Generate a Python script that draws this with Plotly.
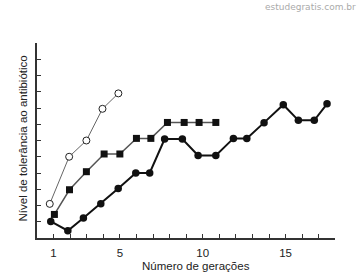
import plotly.graph_objects as go

# Data (generation, tolerance level)
open_x = [0.77, 1.94, 2.98, 3.95, 4.91]
open_y = [2.1, 5.0, 6.0, 7.95, 8.9]

square_x = [1.05, 1.96, 2.98, 4.05, 5.0, 6.0, 6.87, 7.87, 8.88, 9.78, 10.79]
square_y = [1.45, 2.97, 4.08, 5.17, 5.17, 6.13, 6.13, 7.11, 7.11, 7.11, 7.11]

filled_x = [0.83, 1.86, 2.8, 3.85, 4.9, 5.96, 6.8, 7.7, 8.77, 9.72, 10.79,
            11.85, 12.66, 13.7, 14.86, 15.77, 16.73, 17.5]
filled_y = [1.02, 0.45, 1.23, 2.11, 3.05, 4.0, 4.0, 6.09, 6.09, 5.08, 5.08,
            6.13, 6.13, 7.1, 8.2, 7.24, 7.24, 8.26]

x_ticks = list(range(1, 18))
x_labels = {1: "1", 5: "5", 10: "10", 15: "15"}
y_ticks = list(range(1, 13))

x_title = "Número de gerações"
y_title = "Nível de tolerância ao antibiótico"
watermark = "estudegratis.com.br"

fig = go.Figure()
fig.add_trace(go.Scatter(
    x=filled_x, y=filled_y, mode="lines+markers",
    line=dict(color="#111111", width=2),
    marker=dict(symbol="circle", size=7.5, color="#111111"),
    cliponaxis=False))
fig.add_trace(go.Scatter(
    x=square_x, y=square_y, mode="lines+markers",
    line=dict(color="#555555", width=1.5),
    marker=dict(symbol="square", size=7, color="#111111"),
    cliponaxis=False))
fig.add_trace(go.Scatter(
    x=open_x, y=open_y, mode="lines+markers",
    line=dict(color="#666666", width=1),
    marker=dict(symbol="circle", size=7, color="white",
                line=dict(color="#222222", width=1)),
    cliponaxis=False))

fig.update_layout(
    width=361, height=277,
    margin=dict(l=37, r=26, t=43, b=39),
    paper_bgcolor="white", plot_bgcolor="white",
    showlegend=False,
    font=dict(family="Arial, Liberation Sans, sans-serif", size=11.5, color="#222222"),
)
fig.update_xaxes(
    range=[0, 17.98], showgrid=False, zeroline=False,
    showline=True, linecolor="#333333", linewidth=1.5,
    tickmode="array", tickvals=x_ticks,
    ticktext=[x_labels.get(v, "") for v in x_ticks],
    ticks="inside", ticklen=4, tickcolor="#333333", tickwidth=1,
    ticklabelstandoff=3,
    tickfont=dict(size=11.5, color="#222222"))
fig.update_yaxes(
    range=[0, 12], showgrid=False, zeroline=False,
    showline=True, linecolor="#333333", linewidth=1.5,
    tickmode="array", tickvals=y_ticks, showticklabels=False,
    ticks="inside", ticklen=4, tickcolor="#333333", tickwidth=1)

fig.add_annotation(text=x_title, xref="paper", yref="paper",
                   x=(195.5 - 37) / 298, y=-(266 - 238) / 195,
                   showarrow=False, xanchor="center", yanchor="middle",
                   font=dict(size=11.5, color="#222222"))
fig.add_annotation(text=y_title, xref="paper", yref="paper",
                   x=-(37 - 22.5) / 298, y=(238 - 139) / 195,
                   textangle=-90, showarrow=False,
                   xanchor="center", yanchor="middle",
                   font=dict(size=11.5, color="#222222"))
fig.add_annotation(text=watermark, xref="paper", yref="paper",
                   x=(358 - 37) / 298, y=(238 - 7) / 195,
                   showarrow=False, xanchor="right", yanchor="middle",
                   font=dict(family="DejaVu Sans, Verdana, sans-serif", size=9, color="#aaaaaa"))

fig.write_html("out.html")
